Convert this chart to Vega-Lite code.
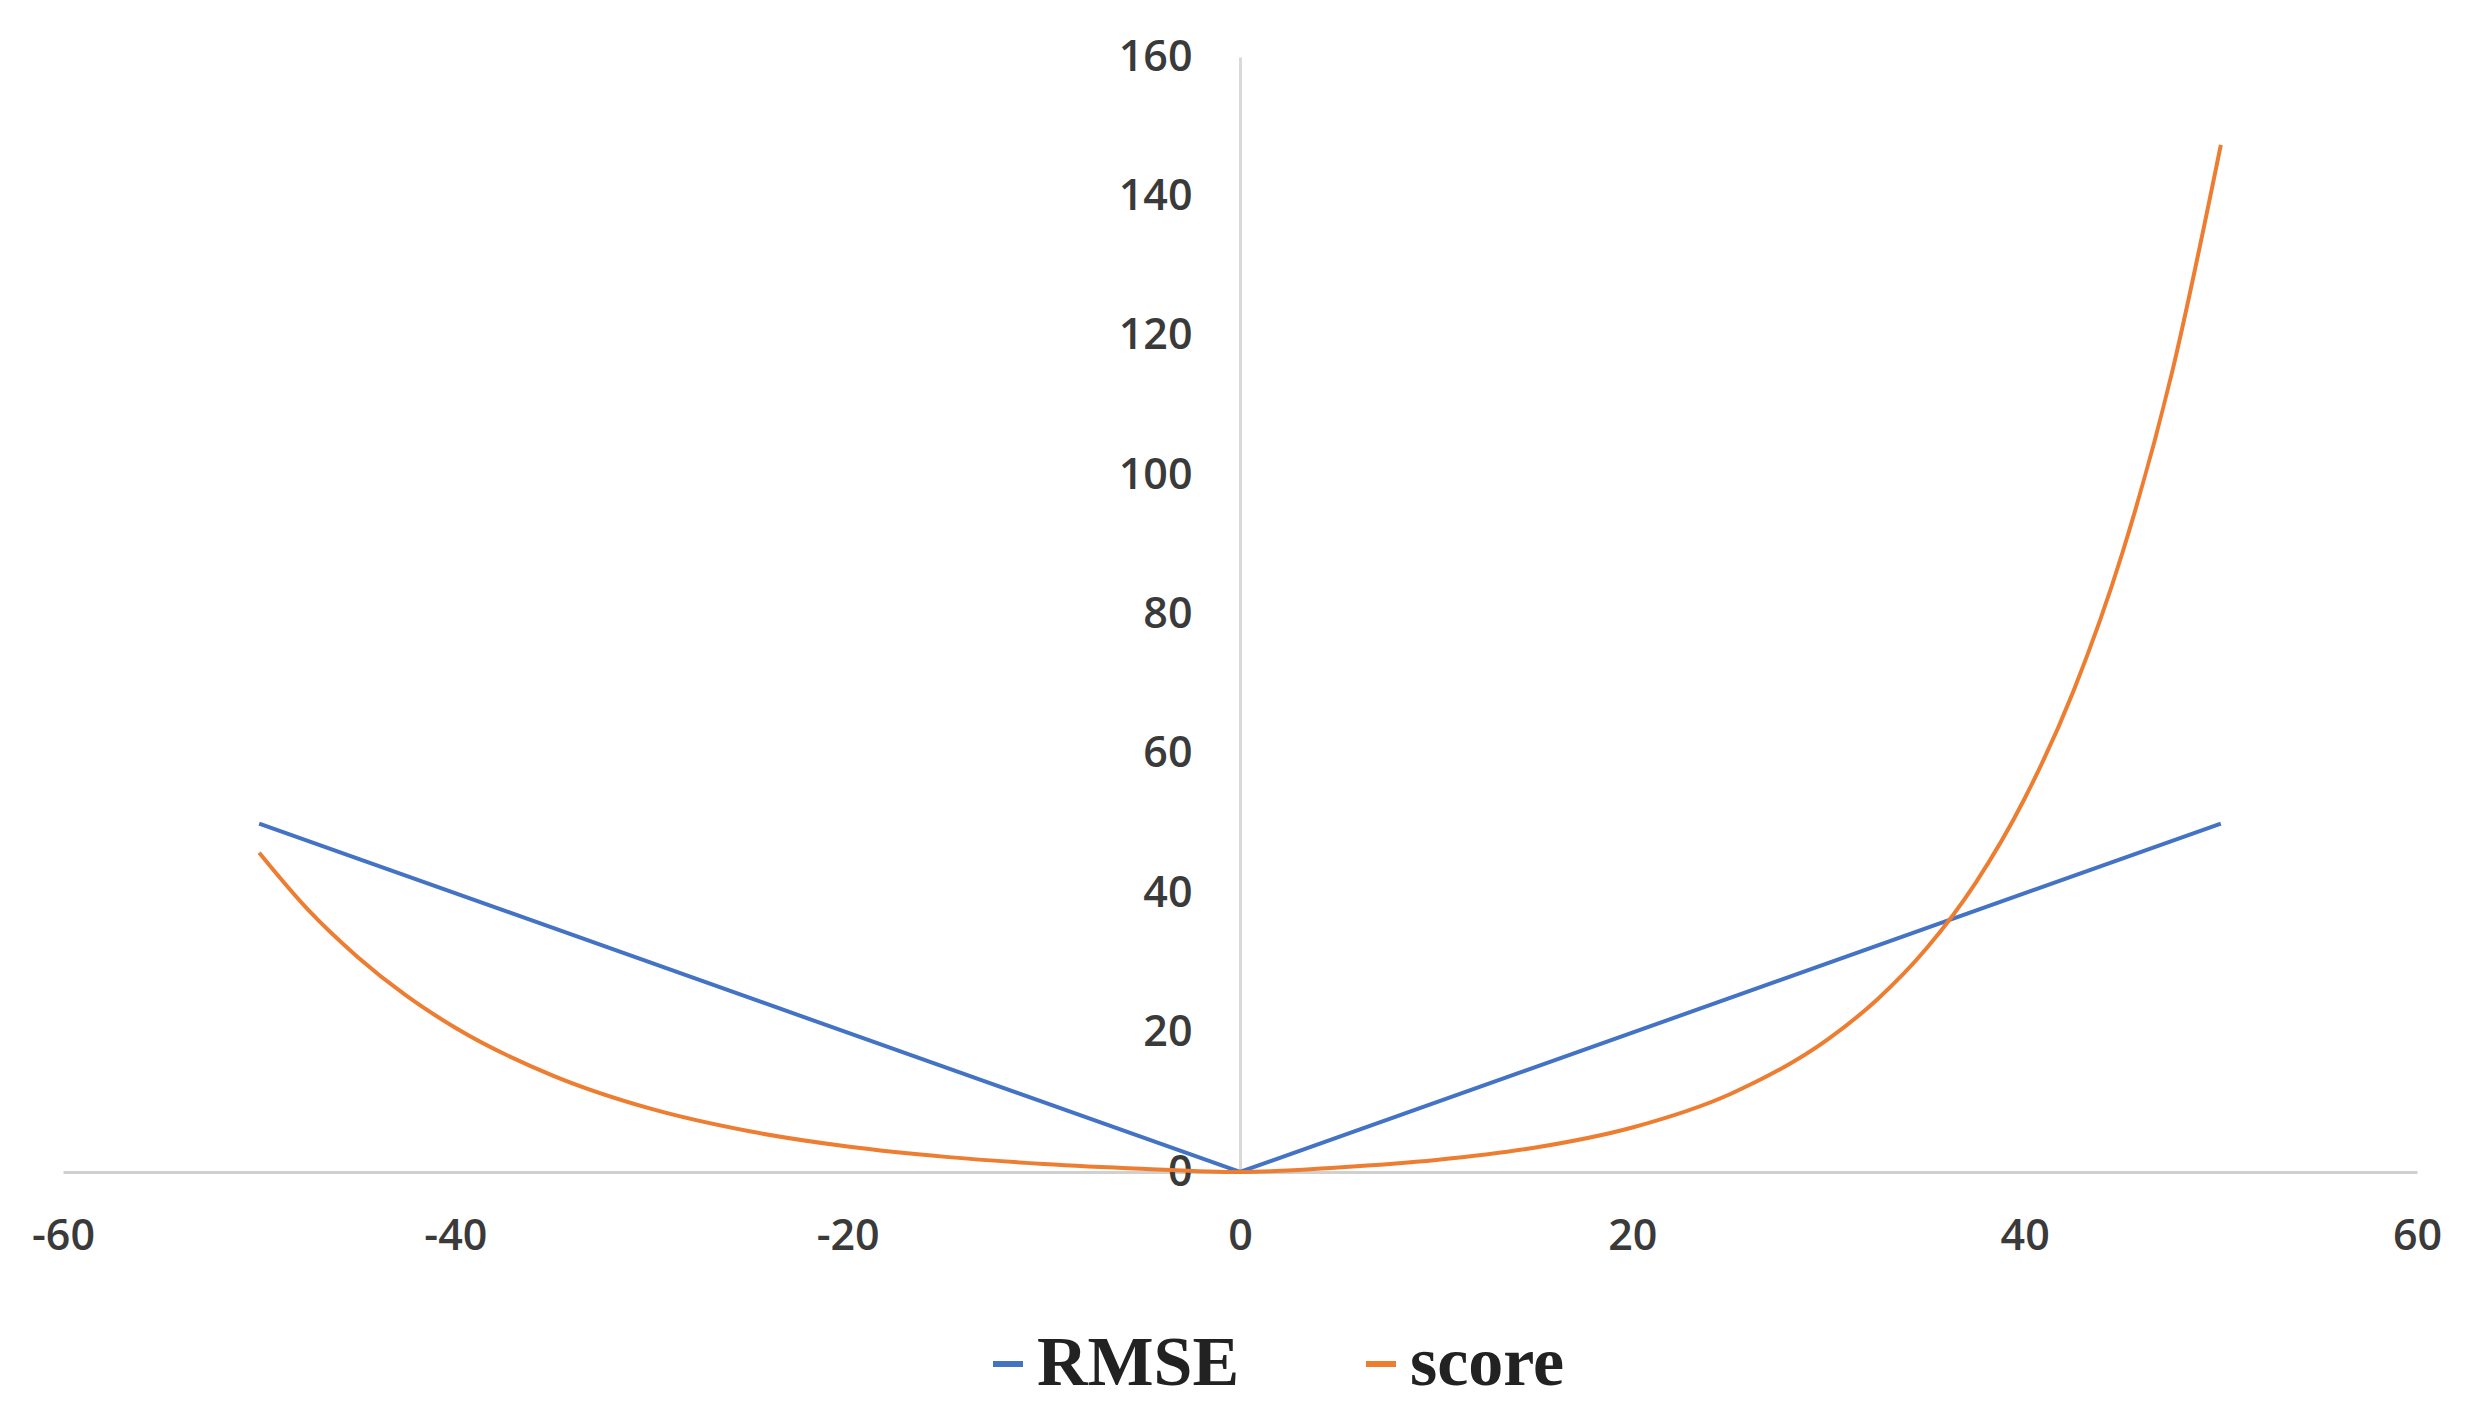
{
  "$schema": "https://vega.github.io/schema/vega-lite/v6.json",
  "width": 2354,
  "height": 1115,
  "autosize": {"type": "none"},
  "padding": {"left": 63, "top": 57, "right": 66, "bottom": 255},
  "background": "white",
  "config": {"view": {"stroke": null}},
  "data": {
    "values": [
      {"x": -50, "value": 50, "series": "RMSE"},
      {"x": 0, "value": 0, "series": "RMSE"},
      {"x": 50, "value": 50, "series": "RMSE"},
      {"x": -50, "value": 45.8, "series": "score"},
      {"x": -47.5, "value": 37.6, "series": "score"},
      {"x": -45, "value": 30.9, "series": "score"},
      {"x": -42.5, "value": 25.3, "series": "score"},
      {"x": -40, "value": 20.7, "series": "score"},
      {"x": -35, "value": 13.8, "series": "score"},
      {"x": -30, "value": 9.05, "series": "score"},
      {"x": -25, "value": 5.84, "series": "score"},
      {"x": -20, "value": 3.66, "series": "score"},
      {"x": -15, "value": 2.17, "series": "score"},
      {"x": -10, "value": 1.16, "series": "score"},
      {"x": -5, "value": 0.47, "series": "score"},
      {"x": 0, "value": 0, "series": "score"},
      {"x": 5, "value": 0.65, "series": "score"},
      {"x": 10, "value": 1.72, "series": "score"},
      {"x": 15, "value": 3.48, "series": "score"},
      {"x": 20, "value": 6.39, "series": "score"},
      {"x": 25, "value": 11.2, "series": "score"},
      {"x": 30, "value": 19.1, "series": "score"},
      {"x": 32.5, "value": 24.8, "series": "score"},
      {"x": 35, "value": 32.1, "series": "score"},
      {"x": 37.5, "value": 41.5, "series": "score"},
      {"x": 40, "value": 53.6, "series": "score"},
      {"x": 42.5, "value": 69.1, "series": "score"},
      {"x": 45, "value": 89.0, "series": "score"},
      {"x": 47.5, "value": 114.6, "series": "score"},
      {"x": 50, "value": 147.4, "series": "score"}
    ]
  },
  "encoding": {
    "x": {
      "field": "x",
      "type": "quantitative",
      "scale": {"domain": [-60, 60], "nice": false},
      "axis": {
        "orient": "bottom",
        "values": [-60, -40, -20, 0, 20, 40, 60],
        "labelExpr": "replace(datum.label, '−', '-')",
        "title": null,
        "grid": false,
        "ticks": false,
        "domainColor": "#d0d0d0",
        "domainWidth": 3,
        "labelPadding": 43,
        "labelFontSize": 43,
        "labelFont": "Open Sans",
        "labelFontWeight": 600,
        "labelColor": "#3a3a3a",
        "labelFlush": false
      }
    },
    "y": {
      "field": "value",
      "type": "quantitative",
      "scale": {"domain": [0, 160], "nice": false},
      "axis": {
        "orient": "left",
        "offset": -1177,
        "values": [0, 20, 40, 60, 80, 100, 120, 140, 160],
        "title": null,
        "grid": false,
        "ticks": false,
        "domainColor": "#d9d9d9",
        "domainWidth": 3,
        "labelPadding": 48,
        "labelFontSize": 43,
        "labelFont": "Open Sans",
        "labelFontWeight": 600,
        "labelColor": "#3a3a3a"
      }
    },
    "color": {
      "field": "series",
      "type": "nominal",
      "scale": {"domain": ["RMSE", "score"], "range": ["#4472C4", "#ED7D31"]},
      "legend": {
        "title": null,
        "orient": "none",
        "direction": "horizontal",
        "legendX": 910,
        "legendY": 1272,
        "padding": 0,
        "symbolType": "stroke",
        "symbolSize": 900,
        "symbolStrokeWidth": 6,
        "labelFont": "Liberation Serif",
        "labelFontWeight": "bold",
        "labelFontSize": 70,
        "labelColor": "#222222",
        "labelLimit": 0,
        "labelOffset": -6,
        "columnPadding": 106,
        "columns": 2
      }
    }
  },
  "layer": [
    {
      "transform": [{"filter": "datum.series === 'RMSE'"}],
      "mark": {"type": "line", "strokeWidth": 4, "interpolate": "linear"}
    },
    {
      "transform": [{"filter": "datum.series === 'score'"}],
      "mark": {"type": "line", "strokeWidth": 4, "interpolate": "monotone"}
    }
  ]
}
